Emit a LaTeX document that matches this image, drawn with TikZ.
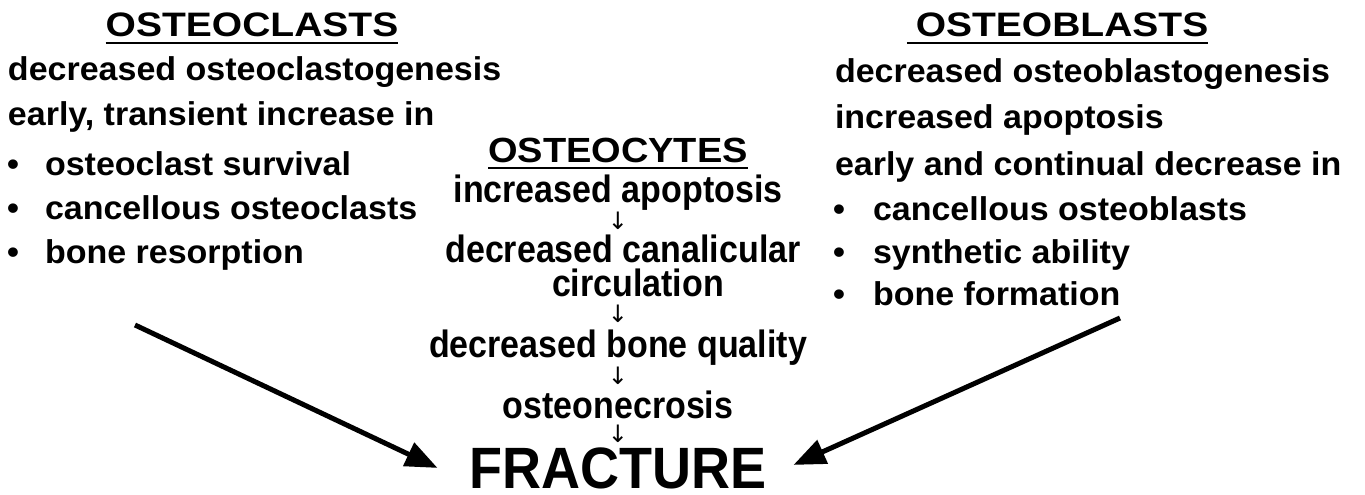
\documentclass[tikz,border=0pt]{standalone}
\usepackage{fontspec}
\usepackage{graphicx}
\setmainfont{Liberation Sans}
\newfontfamily\dejavu{DejaVu Sans}
\usetikzlibrary{arrows.meta}
\newcommand\sctxt[3]{\scalebox{1}[#2]{\fontsize{#1}{#1}\selectfont\bfseries #3}}
\newcommand\bodytxt[1]{\sctxt{34}{0.97}{#1}}
\newcommand\headtxt[1]{\sctxt{39}{0.87}{#1}}
\newcommand\midtxt[1]{\sctxt{34}{1.12}{#1}}
\tikzset{
  lt/.style={inner sep=0pt, outer sep=0pt, anchor=base west},
  ct/.style={inner sep=0pt, outer sep=0pt, anchor=base},
  ulline/.style={line width=2.6pt},
  bigarrow/.style={line width=5pt, -{Triangle[length=32pt,width=25pt]}},
  downarr/.style={inner sep=0pt, outer sep=0pt, font=\dejavu\fontsize{24}{24}\selectfont},
}
\begin{document}
\begin{tikzpicture}[x=1pt,y=-1pt]
\useasboundingbox (0,0) rectangle (1365,495);
% ---- left column
\node[ct] (hcl) at (252,37) {\headtxt{OSTEOCLASTS}};
\draw[ulline] ([yshift=-6pt]hcl.base west) -- ([yshift=-6pt]hcl.base east);
\node[lt] (l1) at (8,81) {\bodytxt{decreased osteoclastogenesis}};
\node[lt] (l2) at (8,125) {\bodytxt{early, transient increase in}};
\node[ct] (lb1) at (13,175) {\bodytxt{•}};
\node[lt] (l3) at (45,175) {\bodytxt{osteoclast survival}};
\node[ct] (lb2) at (13,219) {\bodytxt{•}};
\node[lt] (l4) at (45,219) {\bodytxt{cancellous osteoclasts}};
\node[ct] (lb3) at (13,263) {\bodytxt{•}};
\node[lt] (l5) at (45,263) {\bodytxt{bone resorption}};
% ---- right column
\node[ct] (hob) at (1062,37) {\headtxt{OSTEOBLASTS}};
\draw[ulline] ([xshift=-9pt,yshift=-6pt]hob.base west) -- ([yshift=-6pt]hob.base east);
\node[lt] (r1) at (835,82) {\bodytxt{decreased osteoblastogenesis}};
\node[lt] (r2) at (835,128) {\bodytxt{increased apoptosis}};
\node[lt] (r3) at (835,175) {\bodytxt{early and continual decrease in}};
\node[ct] (rb1) at (839,220) {\bodytxt{•}};
\node[lt] (r4) at (873,220) {\bodytxt{cancellous osteoblasts}};
\node[ct] (rb2) at (839,263) {\bodytxt{•}};
\node[lt] (r5) at (873,263) {\bodytxt{synthetic ability}};
\node[ct] (rb3) at (839,305) {\bodytxt{•}};
\node[lt] (r6) at (873,305) {\bodytxt{bone formation}};
% ---- middle column
\node[ct] (hoc) at (618,162) {\sctxt{38}{0.92}{OSTEOCYTES}};
\draw[ulline] ([yshift=-6pt]hoc.base west) -- ([yshift=-6pt]hoc.base east);
\node[ct] (m1) at (618,202) {\midtxt{increased apoptosis}};
\node[downarr] (a1) at (618,221) {↓};
\node[ct] (m2) at (623,262) {\midtxt{decreased canalicular}};
\node[ct] (m3) at (638,296) {\midtxt{circulation}};
\node[downarr] (a2) at (618,314) {↓};
\node[ct] (m4) at (618,357) {\midtxt{decreased bone quality}};
\node[downarr] (a3) at (618,376) {↓};
\node[ct] (m5) at (618,418) {\midtxt{osteonecrosis}};
\node[downarr] (a4) at (618,434) {↓};
\node[ct] (fr) at (618,488) {\sctxt{54}{1.08}{FRACTURE}};
% ---- big arrows
\coordinate (ls) at (135,325);
\coordinate (rs) at (1120,318);
\draw[bigarrow] (ls) -- ([xshift=-32pt]fr.west);
\draw[bigarrow] (rs) -- ([xshift=27pt,yshift=3pt]fr.east);
\end{tikzpicture}
\end{document}
